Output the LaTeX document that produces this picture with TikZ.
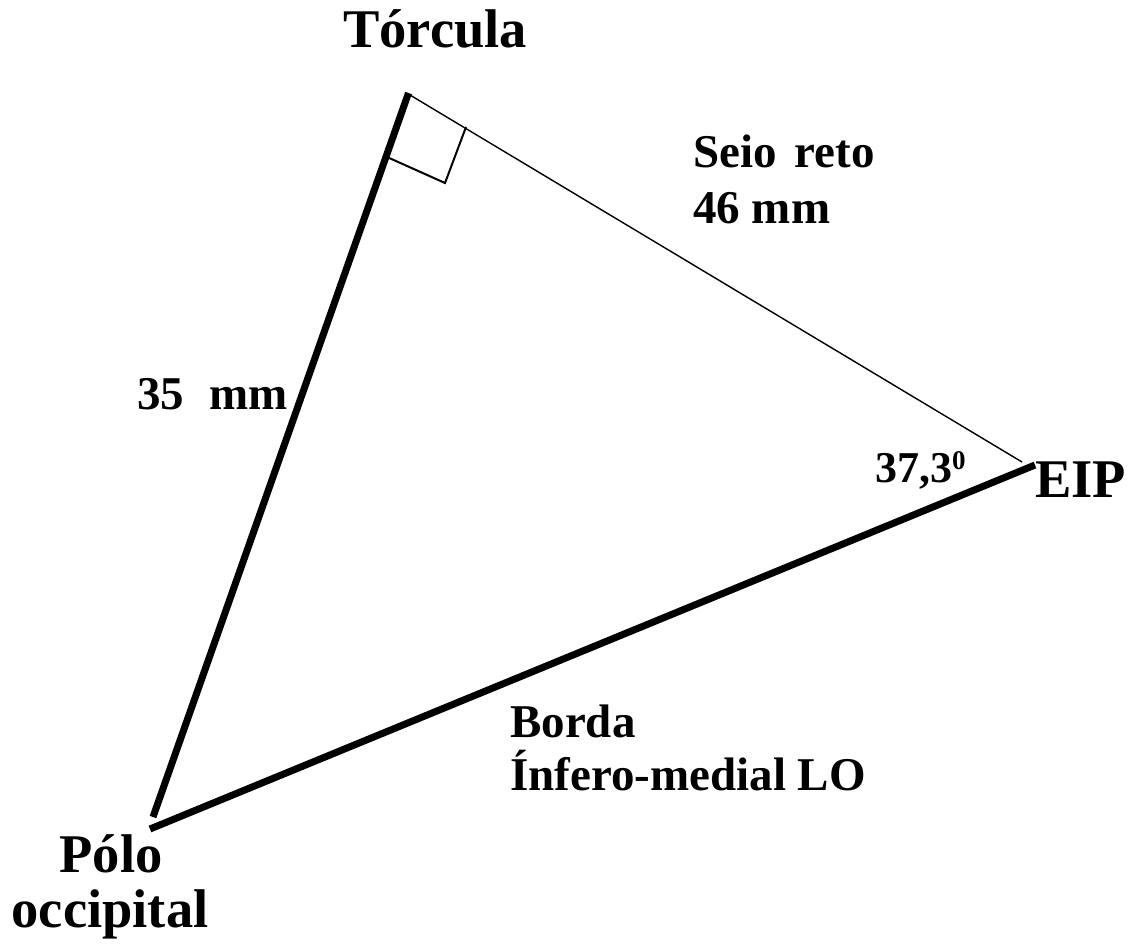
\documentclass[tikz,border=0pt]{standalone}
\usepackage{fontspec}
\setmainfont{Liberation Serif}
\begin{document}
\begin{tikzpicture}[x=1pt,y=-1pt,
  big/.style={font=\fontsize{54.5}{58}\selectfont\bfseries,inner sep=0pt,anchor=base west},
  small/.style={font=\fontsize{47}{53}\selectfont\bfseries,inner sep=0pt,anchor=base west},
  thickedge/.style={line width=7pt},
  thinedge/.style={line width=1.4pt},
  rightmark/.style={line width=2pt,line join=miter}]
\useasboundingbox (0,0) rectangle (1131,951);
% vertices
\coordinate (Ttop) at (408.5,93);
\coordinate (Tthin) at (410,95);
\coordinate (Pleft) at (153,817);
\coordinate (Pbot) at (150,829);
\coordinate (Ethin) at (1022,462);
\coordinate (Ethick) at (1035,465);
% right-angle marker
\coordinate (M1) at (387,157);
\coordinate (M2) at (445,183);
\coordinate (M3) at (466,127);
% edges
\draw[thickedge] (Ttop) -- (Pleft);
\draw[thickedge] (Pbot) -- (Ethick);
\draw[thinedge] (Tthin) -- (Ethin);
\draw[rightmark] (M1) -- (M2) -- (M3);
% labels
\node[big] (torcula) at (343,47) {Tórcula};
\node[small] (seio) at (693,167) {Seio\hspace{18pt}reto};
\node[small] (seiomm) at (693,223) {46 mm};
\node[small] (esq) at (137,409) {35\hspace{25pt}mm};
\node[big] (eip) at (1035,497) {EIP};
\node[inner sep=0pt,anchor=base west,font=\fontsize{44}{48}\selectfont\bfseries] (ang) at (875,482) {37,3\raisebox{13pt}{\fontsize{27}{27}\selectfont 0}};
\node[small] (borda) at (510,737) {Borda};
\node[small] (infero) at (510,790) {Ínfero-medial LO};
\node[big,anchor=base] (polo) at (111,872) {Pólo};
\node[big,anchor=base] (occ) at (110,927) {occipital};
\end{tikzpicture}
\end{document}
